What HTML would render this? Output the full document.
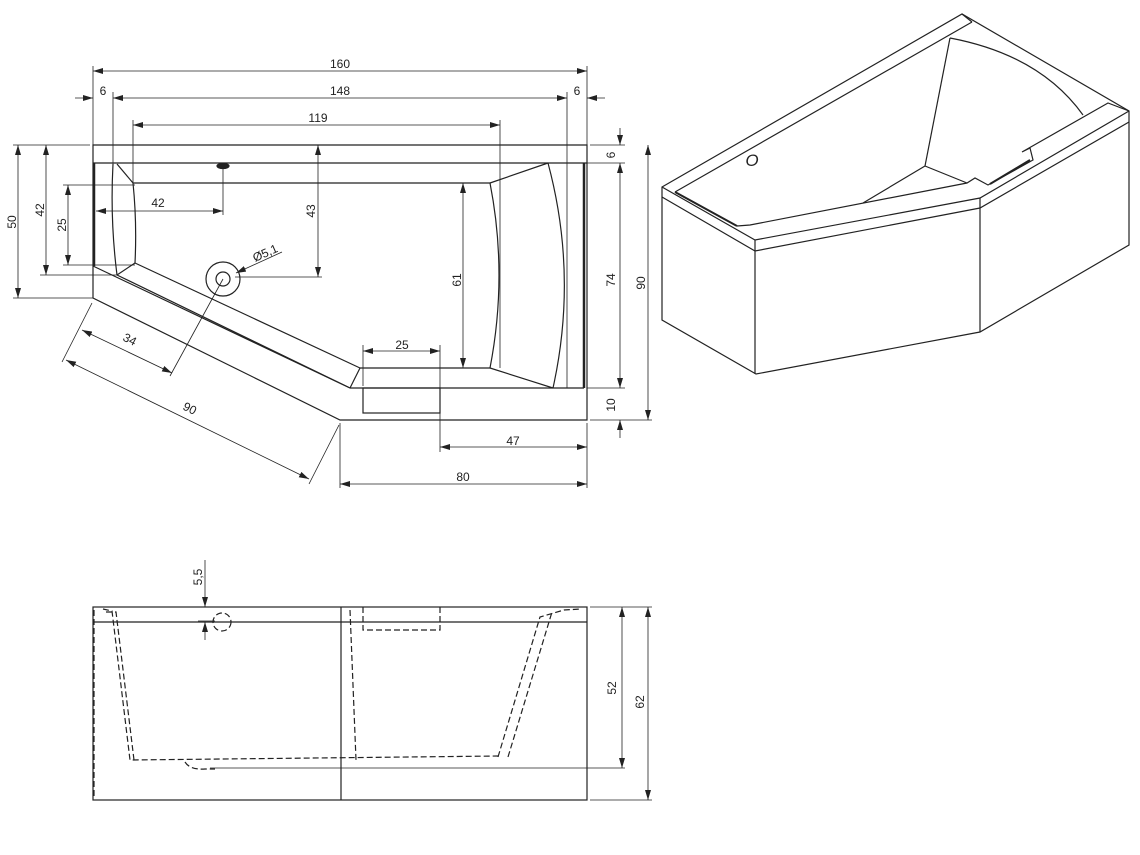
<!DOCTYPE html>
<html><head><meta charset="utf-8"><style>
html,body{margin:0;padding:0;background:#fff;}
svg{display:block;}
text{font-family:"Liberation Sans",sans-serif;font-size:12px;fill:#222;}
</style></head><body>
<svg width="1140" height="855" viewBox="0 0 1140 855" xmlns="http://www.w3.org/2000/svg">
<defs>
<marker id="a" viewBox="0 0 10 6" refX="10" refY="3" markerWidth="10" markerHeight="6" orient="auto-start-reverse" markerUnits="userSpaceOnUse"><path d="M0,0L10,3L0,6z" fill="#222"/></marker>
</defs>
<g stroke="#222" stroke-width="1.2" fill="none">
<!-- TOP VIEW outline -->
<path d="M93,145H587V420H340L93,298Z"/>
<line x1="93" y1="163" x2="587" y2="163"/>
<line x1="94" y1="163" x2="94" y2="266" stroke-width="2.5"/>
<line x1="584" y1="163" x2="584" y2="388" stroke-width="2.5"/>
<line x1="350" y1="388" x2="584" y2="388"/>
<line x1="93" y1="266" x2="350" y2="388"/>
<line x1="117" y1="275" x2="350" y2="388"/>
<line x1="135" y1="263" x2="360" y2="368"/>
<line x1="360" y1="368" x2="350" y2="388"/>
<line x1="360" y1="368" x2="490" y2="368"/>
<line x1="133" y1="183" x2="490" y2="183"/>
<line x1="117" y1="164" x2="133" y2="183"/>
<path d="M113,164Q110,220 117,275"/>
<path d="M133,183Q137,222 135,263"/>
<line x1="117" y1="275" x2="135" y2="263"/>
<line x1="490" y1="183" x2="548" y2="163"/>
<path d="M490,183Q508,275 490,368"/>
<path d="M548,163Q578,275 553,388"/>
<line x1="490" y1="368" x2="553" y2="388"/>
<rect x="363" y="388" width="77" height="25"/>
<circle cx="223" cy="279" r="17"/>
<circle cx="223" cy="279" r="7"/>
<ellipse cx="223" cy="166" rx="6" ry="2.5" fill="#222"/>
<!-- top dims -->
<g stroke-width="0.8">
<line x1="93" y1="66" x2="93" y2="145"/><line x1="587" y1="66" x2="587" y2="145"/>
<line x1="93" y1="71" x2="587" y2="71" marker-start="url(#a)" marker-end="url(#a)"/>
<line x1="113" y1="92" x2="113" y2="164"/><line x1="567" y1="92" x2="567" y2="388"/>
<line x1="75" y1="98" x2="93" y2="98" marker-end="url(#a)"/>
<line x1="113" y1="98" x2="567" y2="98" marker-start="url(#a)" marker-end="url(#a)"/>
<line x1="587" y1="98" x2="605" y2="98" marker-start="url(#a)"/>
<line x1="133" y1="120" x2="133" y2="183"/><line x1="500" y1="120" x2="500" y2="368"/>
<line x1="133" y1="125" x2="500" y2="125" marker-start="url(#a)" marker-end="url(#a)"/>
<line x1="13" y1="145" x2="90" y2="145"/><line x1="13" y1="298" x2="93" y2="298"/>
<line x1="18" y1="145" x2="18" y2="298" marker-start="url(#a)" marker-end="url(#a)"/>
<line x1="40" y1="275" x2="117" y2="275"/>
<line x1="46" y1="145" x2="46" y2="275" marker-start="url(#a)" marker-end="url(#a)"/>
<line x1="63" y1="185" x2="135" y2="185"/><line x1="63" y1="265" x2="135" y2="265"/>
<line x1="68" y1="185" x2="68" y2="265" marker-start="url(#a)" marker-end="url(#a)"/>
<line x1="223" y1="168" x2="223" y2="215"/>
<line x1="96" y1="211" x2="223" y2="211" marker-start="url(#a)" marker-end="url(#a)"/>
<line x1="318" y1="145" x2="318" y2="277" marker-start="url(#a)" marker-end="url(#a)"/>
<line x1="235" y1="277" x2="322" y2="277"/>
<line x1="282" y1="252" x2="236" y2="273" marker-end="url(#a)"/>
<line x1="463" y1="183" x2="463" y2="368" marker-start="url(#a)" marker-end="url(#a)"/>
<line x1="363" y1="345" x2="363" y2="386"/><line x1="440" y1="345" x2="440" y2="452"/>
<line x1="363" y1="351" x2="440" y2="351" marker-start="url(#a)" marker-end="url(#a)"/>
<line x1="590" y1="145" x2="625" y2="145"/><line x1="587" y1="163" x2="625" y2="163"/>
<line x1="587" y1="388" x2="625" y2="388"/><line x1="590" y1="420" x2="652" y2="420"/>
<line x1="620" y1="128" x2="620" y2="145" marker-end="url(#a)"/>
<line x1="620" y1="163" x2="620" y2="388" marker-start="url(#a)" marker-end="url(#a)"/>
<line x1="620" y1="420" x2="620" y2="438" marker-start="url(#a)"/>
<line x1="648" y1="145" x2="648" y2="420" marker-start="url(#a)" marker-end="url(#a)"/>
<line x1="587" y1="423" x2="587" y2="488"/><line x1="340" y1="423" x2="340" y2="488"/>
<line x1="440" y1="447" x2="587" y2="447" marker-start="url(#a)" marker-end="url(#a)"/>
<line x1="340" y1="484" x2="587" y2="484" marker-start="url(#a)" marker-end="url(#a)"/>
<line x1="92" y1="303" x2="62" y2="362"/><line x1="339" y1="425" x2="309" y2="484"/>
<line x1="223" y1="279" x2="170" y2="376"/>
<line x1="82" y1="330" x2="172" y2="373" marker-start="url(#a)" marker-end="url(#a)"/>
<line x1="66" y1="360" x2="309" y2="479" marker-start="url(#a)" marker-end="url(#a)"/>
</g>
<!-- SIDE VIEW -->
<rect x="93" y="607" width="494" height="193"/>
<line x1="93" y1="622" x2="587" y2="622"/>
<line x1="341" y1="607" x2="341" y2="800"/>
<g stroke-dasharray="6,3">
<path d="M94,610V798"/>
<path d="M103,609L112,611L130,760L500,756"/>
<path d="M106,612L116,612L134,760"/>
<path d="M498,757L540,617L564,610L581,609"/>
<path d="M508,757L552,612"/>
<path d="M350,610L356,760"/>
<path d="M363,607V630H440V607"/>
<path d="M185,762Q190,770 205,769H215"/>
<circle cx="222" cy="622" r="9"/>
</g>
<line x1="210" y1="768" x2="625" y2="768" stroke-width="0.8"/>
<g stroke-width="0.8">
<line x1="205" y1="560" x2="205" y2="607" marker-end="url(#a)"/>
<line x1="205" y1="622" x2="205" y2="640" marker-start="url(#a)"/>
<line x1="198" y1="621" x2="215" y2="621"/>
<line x1="590" y1="607" x2="652" y2="607"/><line x1="590" y1="800" x2="652" y2="800"/>
<line x1="622" y1="607" x2="622" y2="768" marker-start="url(#a)" marker-end="url(#a)"/>
<line x1="648" y1="607" x2="648" y2="800" marker-start="url(#a)" marker-end="url(#a)"/>
</g>
<!-- 3D VIEW -->
<path d="M662,187L962,14L1129,111V245L980,332L756,374L662,320Z"/>
<path d="M662,197L755,251L980,208L1129,122"/>
<path d="M662,187L755,240L980,198L1129,111"/>
<line x1="755" y1="240" x2="755" y2="374"/>
<line x1="980" y1="198" x2="980" y2="332"/>
<line x1="675" y1="192" x2="972" y2="22"/>
<line x1="675" y1="192" x2="737" y2="226" stroke-width="2"/>
<path d="M737,226L750,225L967,183L975,178L988,185L1033,160L1030,148L1022,152L1108,103L1129,111"/>
<line x1="990" y1="184" x2="1030" y2="160" stroke-width="2"/>
<line x1="950" y1="38" x2="925" y2="166"/>
<line x1="925" y1="166" x2="863" y2="203"/>
<line x1="925" y1="166" x2="967" y2="183"/>
<path d="M950,38Q1040,55 1083,115"/>
<line x1="972" y1="22" x2="962" y2="14"/>
</g>
<text x="752" y="166" font-size="17" font-style="italic" text-anchor="middle" style="font-size:17px;font-style:italic">O</text>
<!-- labels -->
<text x="340" y="68" text-anchor="middle">160</text>
<text x="103" y="95" text-anchor="middle">6</text>
<text x="340" y="95" text-anchor="middle">148</text>
<text x="577" y="95" text-anchor="middle">6</text>
<text x="318" y="122" text-anchor="middle">119</text>
<text x="158" y="207" text-anchor="middle">42</text>
<text x="402" y="349" text-anchor="middle">25</text>
<text x="513" y="445" text-anchor="middle">47</text>
<text x="463" y="481" text-anchor="middle">80</text>
<text transform="translate(16,222) rotate(-90)" text-anchor="middle">50</text>
<text transform="translate(44,210) rotate(-90)" text-anchor="middle">42</text>
<text transform="translate(66,225) rotate(-90)" text-anchor="middle">25</text>
<text transform="translate(315,211) rotate(-90)" text-anchor="middle">43</text>
<text transform="translate(461,280) rotate(-90)" text-anchor="middle">61</text>
<text transform="translate(615,155) rotate(-90)" text-anchor="middle">6</text>
<text transform="translate(615,280) rotate(-90)" text-anchor="middle">74</text>
<text transform="translate(615,405) rotate(-90)" text-anchor="middle">10</text>
<text transform="translate(645,283) rotate(-90)" text-anchor="middle">90</text>
<text transform="translate(255,262) rotate(-24)">Ø5,1</text>
<text transform="translate(128,343) rotate(27)" text-anchor="middle">34</text>
<text transform="translate(188,412) rotate(27)" text-anchor="middle">90</text>
<text transform="translate(202,577) rotate(-90)" text-anchor="middle">5,5</text>
<text transform="translate(616,688) rotate(-90)" text-anchor="middle">52</text>
<text transform="translate(644,702) rotate(-90)" text-anchor="middle">62</text>
</svg>
</body></html>
